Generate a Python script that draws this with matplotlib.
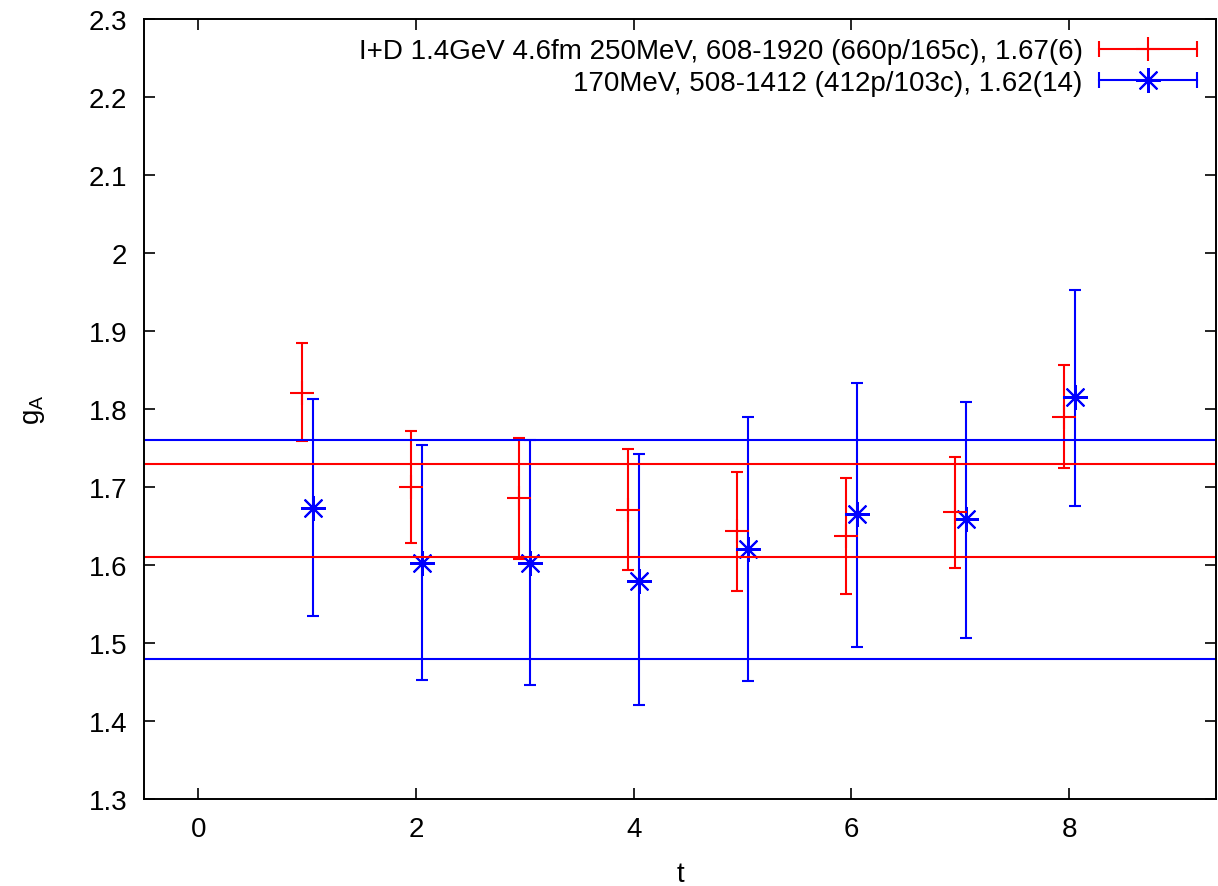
import matplotlib
matplotlib.use("Agg")
import matplotlib.pyplot as plt
from matplotlib.lines import Line2D
from matplotlib.legend_handler import HandlerLine2D, HandlerTuple

plt.rcParams['font.family'] = ['Liberation Sans', 'DejaVu Sans']

# g_A plateau data, red = 250MeV ensemble, blue = 170MeV ensemble
t = [1, 2, 3, 4, 5, 6, 7, 8]

red_val = [1.821, 1.700, 1.686, 1.671, 1.643, 1.637, 1.668, 1.790]
red_lo = [1.759, 1.628, 1.608, 1.594, 1.567, 1.563, 1.596, 1.724]
red_hi = [1.885, 1.772, 1.763, 1.749, 1.719, 1.711, 1.738, 1.856]

blue_val = [1.673, 1.603, 1.603, 1.580, 1.621, 1.665, 1.659, 1.815]
blue_lo = [1.534, 1.453, 1.446, 1.420, 1.451, 1.495, 1.506, 1.675]
blue_hi = [1.813, 1.754, 1.760, 1.742, 1.790, 1.833, 1.809, 1.952]

red_band = [1.61, 1.73]
blue_band = [1.48, 1.76]

red_label = "I+D 1.4GeV 4.6fm 250MeV, 608-1920 (660p/165c), 1.67(6)"
blue_label = "170MeV, 508-1412 (412p/103c), 1.62(14)"

shift = 0.05
lw = 1.5
fs = 20

fig = plt.figure(figsize=(12.18, 8.87), dpi=100)
ax = fig.add_axes([0.1182, 0.0981, 0.8802, 0.8794])

red_x = [x - shift for x in t]
blue_x = [x + shift for x in t]
red_err = [[v - l for v, l in zip(red_val, red_lo)], [h - v for v, h in zip(red_val, red_hi)]]
blue_err = [[v - l for v, l in zip(blue_val, blue_lo)], [h - v for v, h in zip(blue_val, blue_hi)]]

ax.errorbar(red_x, red_val, yerr=red_err, fmt='+', color='red', ms=17, mew=lw,
            elinewidth=lw, capsize=4, capthick=lw)
ax.errorbar(blue_x, blue_val, yerr=blue_err, fmt='none', ecolor='blue',
            elinewidth=lw, capsize=4, capthick=lw)
ax.plot(blue_x, blue_val, ls='none', marker=(8, 2, 0), color='blue', ms=18, mew=lw)

for y in red_band:
    ax.axhline(y, color='red', lw=lw)
for y in blue_band:
    ax.axhline(y, color='blue', lw=lw)

ax.set_xlim(-0.5, 9.35)
ax.set_ylim(1.3, 2.3)
ax.set_xticks([0, 2, 4, 6, 8])
ax.set_yticks([1.3, 1.4, 1.5, 1.6, 1.7, 1.8, 1.9, 2.0, 2.1, 2.2, 2.3])
ax.set_yticklabels(['1.3', '1.4', '1.5', '1.6', '1.7', '1.8', '1.9', '2', '2.1', '2.2', '2.3'])
ax.tick_params(direction='in', length=8, width=1.2, labelsize=fs, pad=12,
               top=True, right=True)
for s in ax.spines.values():
    s.set_linewidth(1.4)

ax.set_xlabel('t', fontsize=fs, labelpad=14)
ax.set_ylabel(r'g$_\mathregular{A}$', fontsize=fs, labelpad=30)

# legend samples in gnuplot style: horizontal bar with end caps, marker centred
red_bar = Line2D([], [], color='red', lw=lw, marker='|', ms=11, mew=lw)
red_mk = Line2D([], [], color='red', ls='none', marker='+', ms=17, mew=lw)
blue_bar = Line2D([], [], color='blue', lw=lw, marker='|', ms=11, mew=lw)
blue_mk = Line2D([], [], color='blue', ls='none', marker=(8, 2, 0), ms=18, mew=lw)
hmap = {red_bar: HandlerLine2D(numpoints=2, marker_pad=0),
        blue_bar: HandlerLine2D(numpoints=2, marker_pad=0),
        red_mk: HandlerLine2D(numpoints=1),
        blue_mk: HandlerLine2D(numpoints=1),
        tuple: HandlerTuple(ndivide=1)}
ax.legend([(red_bar, red_mk), (blue_bar, blue_mk)], [red_label, blue_label],
          handler_map=hmap, loc='upper right', frameon=False, markerfirst=False,
          fontsize=fs, handlelength=3.5, handletextpad=0.6, labelspacing=0.2,
          borderaxespad=0.4, borderpad=0.3)

fig.savefig('out.png', dpi=100)
